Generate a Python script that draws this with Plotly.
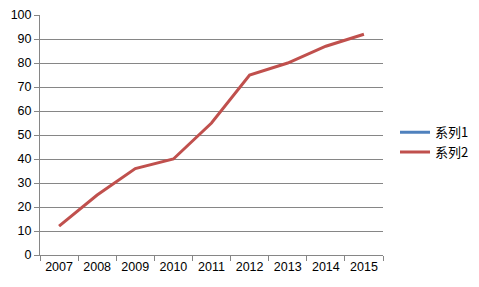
import plotly.graph_objects as go

years = ["2007", "2008", "2009", "2010", "2011", "2012", "2013", "2014", "2015"]
series1 = [None] * 9
series2 = [12, 25, 36, 40, 55, 75, 80, 87, 92]
yticks = list(range(0, 101, 10))

fig = go.Figure()
fig.add_trace(go.Scatter(x=years, y=series1, mode="lines", name="系列1",
                         line=dict(color="#4F81BD", width=3)))
fig.add_trace(go.Scatter(x=years, y=series2, mode="lines", name="系列2",
                         line=dict(color="#C0504D", width=3)))

fig.update_layout(
    width=479, height=287,
    margin=dict(l=40, r=96, t=15, b=32, autoexpand=False),
    paper_bgcolor="white", plot_bgcolor="white",
    font=dict(family="Liberation Sans, Noto Sans CJK SC", size=12.5, color="#000000"),
    showlegend=True,
    legend=dict(x=1.035, y=0.47, xanchor="left", yanchor="middle",
                font=dict(family="Noto Sans CJK SC", size=13),
                itemwidth=30, tracegroupgap=0, bgcolor="rgba(0,0,0,0)"),
)
fig.update_xaxes(type="category", range=[-0.5, 8.5], tickson="boundaries",
                 ticks="outside", ticklen=5, tickcolor="#868686",
                 showgrid=False, showline=True, linecolor="#868686", linewidth=1,
                 tickfont=dict(size=12.5))
fig.update_yaxes(range=[0, 100], tickvals=yticks, ticks="outside", ticklen=5,
                 tickcolor="#868686", showgrid=True, gridcolor="#868686", gridwidth=1,
                 showline=True, linecolor="#868686", linewidth=1, zeroline=False,
                 tickfont=dict(size=12.5))

fig.write_html("out.html")
